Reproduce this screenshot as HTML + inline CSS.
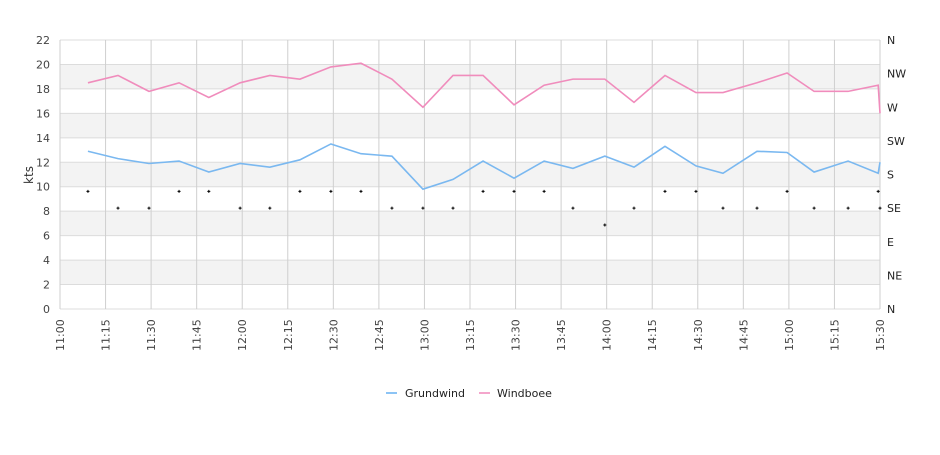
<!DOCTYPE html>
<html><head><meta charset="utf-8"><style>
html,body{margin:0;padding:0;background:#fff;}
svg text{font-family:"DejaVu Sans","Liberation Sans",sans-serif;}
</style></head><body>
<svg id="chart" width="940" height="450" xmlns="http://www.w3.org/2000/svg">
<g id="grid"></g>
<g id="series"></g>
<g id="axes"></g>
<text transform="translate(33,175) rotate(-90)" text-anchor="middle" font-size="12" fill="#333">kts</text>
<g>
<g>
<line x1="386" y1="393" x2="397" y2="393" stroke="#8cc4f5" stroke-width="2"/>
<text x="405" y="397" font-size="11" fill="#222">Grundwind</text></g>
<g>
<line x1="479" y1="393" x2="490" y2="393" stroke="#f4a6cc" stroke-width="2"/>
<text x="497" y="397" font-size="11" fill="#222">Windboee</text></g>
</g>
</svg>
<script>
const minutes=[9.2,19.1,29.3,39.2,49,59.3,69.1,79,89.2,99.1,109.3,119.5,129.4,139.3,149.5,159.4,168.9,179.4,189,199.2,209.4,218.3,229.5,239.4,248.3,259.5,269.4,270];
const grundwind=[12.9,12.3,11.9,12.1,11.2,11.9,11.6,12.2,13.5,12.7,12.5,9.8,10.6,12.1,10.7,12.1,11.5,12.5,11.6,13.3,11.7,11.1,12.9,12.8,11.2,12.1,11.1,12.0];
const windboee=[18.5,19.1,17.8,18.5,17.3,18.5,19.1,18.8,19.8,20.1,18.8,16.5,19.1,19.1,16.7,18.3,18.8,18.8,16.9,19.1,17.7,17.7,18.5,19.3,17.8,17.8,18.3,16.0];
const direction=[157.5,135,135,157.5,157.5,135,135,157.5,157.5,157.5,135,135,135,157.5,157.5,157.5,135,112.5,135,157.5,157.5,135,135,157.5,135,135,157.5,135];
const yTicks=[0,2,4,6,8,10,12,14,16,18,20,22];
const dirLabels=["N","NE","E","SE","S","SW","W","NW","N"];
const timeLabels=["11:00","11:15","11:30","11:45","12:00","12:15","12:30","12:45","13:00","13:15","13:30","13:45","14:00","14:15","14:30","14:45","15:00","15:15","15:30"];
const X0=60,X1=880,Y0=309,Y1=40,TMAX=270,VMAX=22;
const xs=m=>X0+m*(X1-X0)/TMAX;
const ys=v=>Y0-v*(Y0-Y1)/VMAX;
const yd=d=>ys(d/360*VMAX);
const NS="http://www.w3.org/2000/svg";
function mk(tag,attrs,parent){const e=document.createElementNS(NS,tag);for(const k in attrs)e.setAttribute(k,attrs[k]);parent.appendChild(e);return e;}
const grid=document.getElementById('grid'),series=document.getElementById('series'),axes=document.getElementById('axes');
for(let i=0;i<yTicks.length-1;i++){
 if(i%2===1){const r=mk('rect',{x:X0,y:ys(yTicks[i+1]),width:X1-X0,height:ys(yTicks[i])-ys(yTicks[i+1]),fill:'#f3f3f3'},grid);
 
 }
}
yTicks.forEach(v=>{
 const l=mk('line',{x1:X0,x2:X1,y1:ys(v),y2:ys(v),stroke:'#dcdcdc'},grid);
 
 
 const t=mk('text',{x:50,y:ys(v)+4,'text-anchor':'end','font-size':'11',fill:'#444'},axes);t.textContent=v;
 
 
});
dirLabels.forEach((d,i)=>{
 const t=mk('text',{x:887,y:ys(i*VMAX/8)+4,'font-size':'11',fill:'#222'},axes);t.textContent=d;
 
 
});
timeLabels.forEach((s,i)=>{
 const x=xs(i*15);
 const l=mk('line',{x1:x,x2:x,y1:Y1,y2:Y0,stroke:'#cfcfcf'},grid);
 
 
 const t=mk('text',{transform:`translate(${x+4},351) rotate(-90)`,'font-size':'11',fill:'#444'},axes);t.textContent=s;
 
 
});
function line(vals,color,name){
 const p=mk('polyline',{points:vals.map((v,i)=>xs(minutes[i])+','+ys(v)).join(' '),fill:'none',stroke:color,'stroke-width':'1.6'},series);
 
 
}
line(grundwind,'#7ab8f0','grundwind-line');
line(windboee,'#f08cbc','windboee-line');
direction.forEach((d,i)=>{
 const x=xs(minutes[i]),y=yd(d);
 const p=mk('path',{d:`M${x-1.5},${y}H${x+1.5}M${x},${y-1.5}V${y+1.5}`,stroke:'#000','stroke-width':'1'},series);
 
 
});
</script>
</body></html>
